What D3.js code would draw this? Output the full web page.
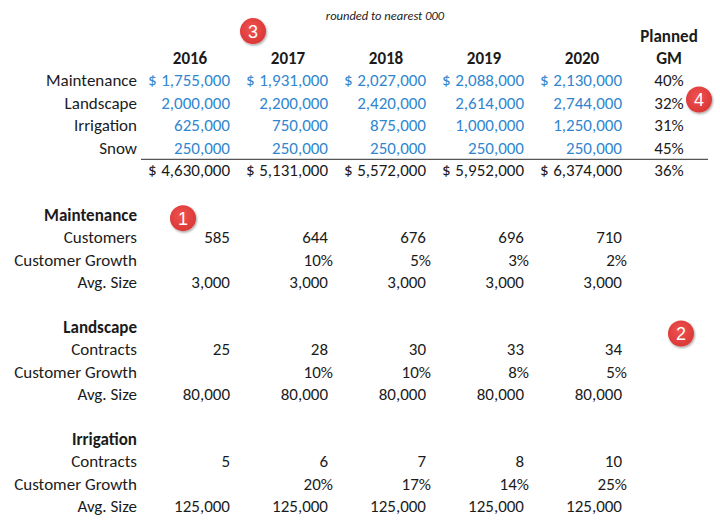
<!DOCTYPE html>
<html>
<head>
<meta charset="utf-8">
<script src="https://cdn.jsdelivr.net/npm/d3@7"></script>
<style>
  html, body { margin: 0; padding: 0; background: #fff; }
  svg { display: block; }
</style>
</head>
<body>
<div id="chart"></div>
<script>
// ---------- DATA ----------
const years = ["2016", "2017", "2018", "2019", "2020"];
const revenueCategories = ["Maintenance", "Landscape", "Irrigation", "Snow"];
const maintenanceRevenue = [1755000, 1931000, 2027000, 2088000, 2130000];
const landscapeRevenue   = [2000000, 2200000, 2420000, 2614000, 2744000];
const irrigationRevenue  = [625000, 750000, 875000, 1000000, 1250000];
const snowRevenue        = [250000, 250000, 250000, 250000, 250000];
const totalRevenue       = [4630000, 5131000, 5572000, 5952000, 6374000];
const plannedGM          = [0.40, 0.32, 0.31, 0.45];
const totalGM            = 0.36;

const maintenanceCustomers = [585, 644, 676, 696, 710];
const maintenanceGrowth    = [null, 0.10, 0.05, 0.03, 0.02];
const maintenanceAvgSize   = [3000, 3000, 3000, 3000, 3000];

const landscapeContracts = [25, 28, 30, 33, 34];
const landscapeGrowth    = [null, 0.10, 0.10, 0.08, 0.05];
const landscapeAvgSize   = [80000, 80000, 80000, 80000, 80000];

const irrigationContracts = [5, 6, 7, 8, 10];
const irrigationGrowth    = [null, 0.20, 0.17, 0.14, 0.25];
const irrigationAvgSize   = [125000, 125000, 125000, 125000, 125000];

const noteText = "rounded to nearest 000";
const gmHeader = ["Planned", "GM"];
const badgeLabels = ["1", "2", "3", "4"];

// ---------- LAYOUT ----------
const W = 720, H = 531;
const FONT = "Carlito, Calibri, Lato, 'Open Sans', sans-serif";
const FS = 17;
const TXT = "#1b1b1b";
const BLUE = "#2f86cf";

const svg = d3.select("#chart").append("svg")
  .attr("width", W).attr("height", H)
  .style("font-family", FONT);
svg.append("rect").attr("width", W).attr("height", H).attr("fill", "#fff");

const x = d3.scaleBand().domain(years).range([141, 631]);
const gmX = x.range()[1] + 38;          // centre of GM column
const labelRight = 137;
const y = d3.scaleLinear().domain([0, 19]).range([58, 58 + 19 * 22.4]);

const fmtInt = d3.format(",");
const fmtPct = d3.format(".0%");

function text(xp, yp, s, opts = {}) {
  return svg.append("text")
    .attr("x", xp).attr("y", yp).attr("dy", "0.35em")
    .attr("text-anchor", opts.anchor || "start")
    .attr("font-size", opts.size || FS)
    .attr("font-weight", opts.bold ? "bold" : "normal")
    .attr("font-style", opts.italic ? "italic" : "normal")
    .attr("fill", opts.color || TXT)
    .text(s);
}

// note
text(385, 16, noteText, { anchor: "middle", size: 12.5, italic: true });

// headers
text(gmX, y(-1), gmHeader[0], { anchor: "middle", bold: true });
text(gmX, y(0), gmHeader[1], { anchor: "middle", bold: true });
years.forEach(yr => text(x(yr) + x.bandwidth() / 2, y(0), yr, { anchor: "middle", bold: true }));

// revenue block
const revenueSeries = [maintenanceRevenue, landscapeRevenue, irrigationRevenue, snowRevenue];
revenueCategories.forEach((cat, i) => {
  const row = y(1 + i);
  text(labelRight, row, cat, { anchor: "end" });
  revenueSeries[i].forEach((v, j) => {
    const col = x(years[j]);
    if (i === 0) text(col + 7, row, "$", { color: BLUE });
    text(col + x.bandwidth() - 9, row, fmtInt(v), { anchor: "end", color: BLUE });
  });
  text(gmX, row, fmtPct(plannedGM[i]), { anchor: "middle" });
});

// total line
svg.append("line")
  .attr("x1", x.range()[0]).attr("x2", gmX + 39)
  .attr("y1", (y(4) + y(5)) / 2 + 0.5).attr("y2", (y(4) + y(5)) / 2 + 0.5)
  .attr("stroke", "#555").attr("stroke-width", 1.2);

totalRevenue.forEach((v, j) => {
  const col = x(years[j]);
  text(col + 7, y(5), "$");
  text(col + x.bandwidth() - 9, y(5), fmtInt(v), { anchor: "end" });
});
text(gmX, y(5), fmtPct(totalGM), { anchor: "middle" });

// detail sections
const sections = [
  { title: "Maintenance", start: 7, rows: [["Customers", maintenanceCustomers], ["Customer Growth", maintenanceGrowth], ["Avg. Size", maintenanceAvgSize]] },
  { title: "Landscape", start: 12, rows: [["Contracts", landscapeContracts], ["Customer Growth", landscapeGrowth], ["Avg. Size", landscapeAvgSize]] },
  { title: "Irrigation", start: 17, rows: [["Contracts", irrigationContracts], ["Customer Growth", irrigationGrowth], ["Avg. Size", irrigationAvgSize]] }
];
sections.forEach(sec => {
  text(labelRight, y(sec.start), sec.title, { anchor: "end", bold: true });
  sec.rows.forEach(([lab, vals], r) => {
    const row = y(sec.start + 1 + r);
    text(labelRight, row, lab, { anchor: "end" });
    const isPct = lab === "Customer Growth";
    vals.forEach((v, j) => {
      if (v == null) return;
      const col = x(years[j]);
      if (isPct) text(col + x.bandwidth() - 4, row, fmtPct(v), { anchor: "end" });
      else text(col + x.bandwidth() - 9, row, fmtInt(v), { anchor: "end" });
    });
  });
});

// numbered badges (annotation markers)
const defs = svg.append("defs");
const grad = defs.append("radialGradient").attr("id", "badgeGrad")
  .attr("cx", "45%").attr("cy", "40%").attr("r", "65%");
grad.append("stop").attr("offset", "0%").attr("stop-color", "#ef5350");
grad.append("stop").attr("offset", "100%").attr("stop-color", "#d93535");
const shadow = defs.append("filter").attr("id", "badgeShadow")
  .attr("x", "-40%").attr("y", "-40%").attr("width", "180%").attr("height", "180%");
shadow.append("feDropShadow").attr("dx", 1).attr("dy", 1.5).attr("stdDeviation", 1.2)
  .attr("flood-color", "#000").attr("flood-opacity", 0.35);

const badgeAnchors = [
  { cx: x("2016") + 42, cy: y(7.15) },
  { cx: gmX + 12, cy: y(12.3) },
  { cx: x("2017") + 14, cy: y(-1.2) },
  { cx: gmX + 30, cy: y(1.85) }
];
badgeLabels.forEach((lab, i) => {
  const a = badgeAnchors[i];
  const g = svg.append("g").attr("transform", `translate(${a.cx},${a.cy})`);
  g.append("circle").attr("r", 13).attr("fill", "url(#badgeGrad)")
    .attr("filter", "url(#badgeShadow)");
  g.append("text").attr("text-anchor", "middle").attr("dy", "0.36em")
    .attr("font-size", 18).attr("fill", "#fff")
    .attr("font-family", "'Liberation Sans', Arial, sans-serif")
    .text(lab);
});
</script>
</body>
</html>
